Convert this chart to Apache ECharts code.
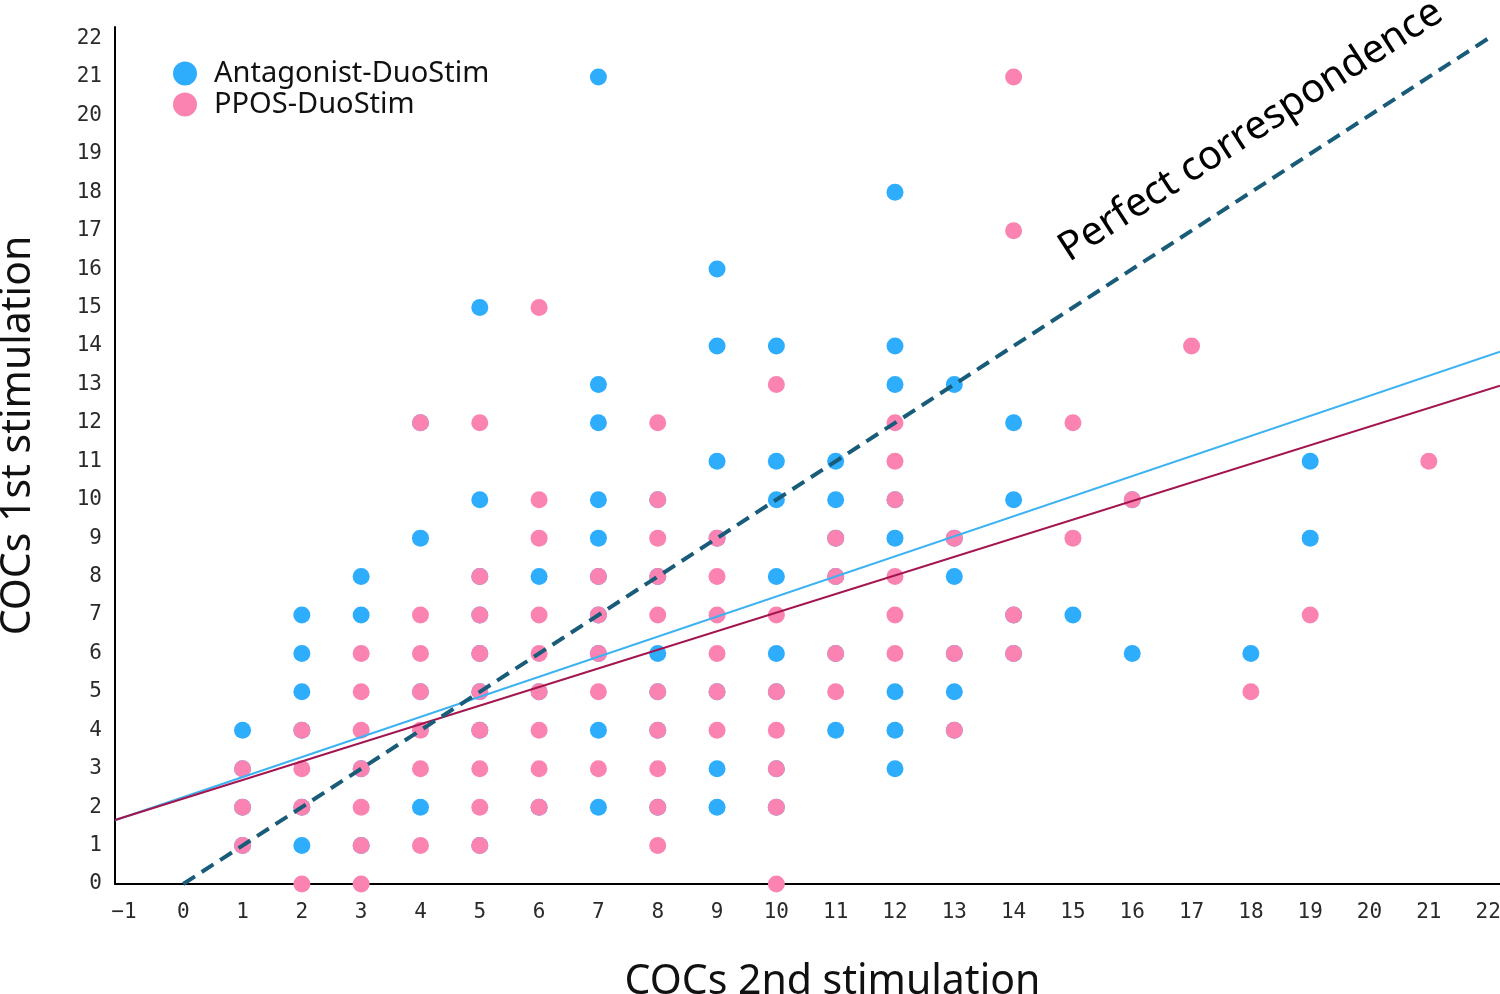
<!DOCTYPE html>
<html><head><meta charset="utf-8">
<script src="https://cdn.jsdelivr.net/npm/echarts@6/dist/echarts.min.js"></script>
<style>html,body{margin:0;padding:0;background:#fff}#c{width:1500px;height:994px}</style>
</head><body><div id="c"></div>
<script>
// Antagonist-DuoStim: [COCs 2nd stimulation, COCs 1st stimulation]
const antagonistPoints = [
  [1,1],[1,2],[1,3],[1,4],
  [2,1],[2,2],[2,4],[2,5],[2,6],[2,7],
  [3,1],[3,3],[3,7],[3,8],
  [4,2],[4,5],[4,9],[4,12],
  [5,1],[5,4],[5,5],[5,6],[5,7],[5,8],[5,10],[5,15],
  [6,2],[6,5],[6,8],
  [7,2],[7,4],[7,6],[7,7],[7,8],[7,9],[7,10],[7,12],[7,13],[7,21],
  [8,2],[8,4],[8,5],[8,6],[8,8],[8,10],
  [9,2],[9,3],[9,5],[9,9],[9,11],[9,14],[9,16],
  [10,2],[10,3],[10,5],[10,6],[10,8],[10,10],[10,11],[10,14],
  [11,4],[11,6],[11,8],[11,9],[11,10],[11,11],
  [12,3],[12,4],[12,5],[12,9],[12,10],[12,13],[12,14],[12,18],
  [13,4],[13,5],[13,6],[13,8],[13,9],[13,13],
  [14,6],[14,7],[14,10],[14,12],
  [15,7],
  [16,6],[16,10],
  [18,6],
  [19,9],[19,11]
];
// PPOS-DuoStim
const pposPoints = [
  [1,1],[1,2],[1,3],
  [2,0],[2,2],[2,3],[2,4],
  [3,0],[3,1],[3,2],[3,3],[3,4],[3,5],[3,6],
  [4,1],[4,3],[4,4],[4,5],[4,6],[4,7],[4,12],
  [5,1],[5,2],[5,3],[5,4],[5,5],[5,6],[5,7],[5,8],[5,12],
  [6,2],[6,3],[6,4],[6,5],[6,6],[6,7],[6,9],[6,10],[6,15],
  [7,3],[7,5],[7,6],[7,7],[7,8],
  [8,1],[8,2],[8,3],[8,4],[8,5],[8,7],[8,8],[8,9],[8,10],[8,12],
  [9,4],[9,5],[9,6],[9,7],[9,8],[9,9],
  [10,0],[10,2],[10,3],[10,4],[10,5],[10,7],[10,13],
  [11,5],[11,6],[11,8],[11,9],
  [12,6],[12,7],[12,8],[12,10],[12,11],[12,12],
  [13,4],[13,6],[13,9],
  [14,6],[14,7],[14,17],[14,21],
  [15,9],[15,12],
  [16,10],
  [17,14],
  [18,5],
  [19,7],
  [21,11]
];
// Fitted lines: [intercept, slope]
const antagonistFit = [2.26, 0.522];
const pposFit = [2.22, 0.484];
const identityLine = [[0,0],[22,22]];
const seriesNames = ['Antagonist-DuoStim','PPOS-DuoStim'];
const xTitle = 'COCs 2nd stimulation';
const yTitle = 'COCs 1st stimulation';
const annotationText = 'Perfect correspondence';
const xTickMin = -1, xTickMax = 22;

const X_MIN = -1.15, X_MAX = 22.2, Y_MIN = 0, Y_MAX = 22.3;
const fitLine = f => [[X_MIN, f[0] + f[1]*X_MIN], [X_MAX, f[0] + f[1]*X_MAX]];

const GRID_L = 115, GRID_R = 0, GRID_T = 27, GRID_B = 110, W = 1500;
const pxPerUnit = (W - GRID_L - GRID_R) / (X_MAX - X_MIN);
const labelGridL = GRID_L + (xTickMin - X_MIN) * pxPerUnit;
const labelGridR = GRID_R + (X_MAX - xTickMax) * pxPerUnit;

const BLUE = '#2EADFD', PINK = '#FA83B1';
const tickFont = {fontFamily:'DejaVu Sans Mono', fontSize:21, color:'#2a2a2a'};
const intLabel = v => String(v).replace('-', '\u2212');

const chart = echarts.init(document.getElementById('c'), null, {renderer:'canvas'});
chart.setOption({
  animation:false,
  backgroundColor:'#fff',
  grid:[
    {left:GRID_L, right:GRID_R, top:GRID_T, bottom:GRID_B, containLabel:false, outerBoundsMode:'none'},
    {left:labelGridL, right:labelGridR, top:GRID_T, bottom:GRID_B, containLabel:false, outerBoundsMode:'none'}
  ],
  legend:{
    orient:'vertical', left:168, top:54, itemGap:2, itemWidth:24, itemHeight:24,
    icon:'circle',
    data:seriesNames,
    textStyle:{fontFamily:'Noto Sans', fontSize:29, lineHeight:26, color:'#111', padding:[0,0,0,12]}
  },
  xAxis:[{
    gridIndex:0, type:'value', min:X_MIN, max:X_MAX,
    name:xTitle, nameLocation:'middle', nameGap:78,
    nameTextStyle:{fontFamily:'Noto Sans', fontSize:41, color:'#111', padding:[0,0,0,50]},
    axisLine:{show:true, onZero:false, lineStyle:{color:'#000', width:2}},
    axisTick:{show:false},
    splitLine:{show:false},
    axisLabel:{show:false}
  },{
    gridIndex:1, type:'value', min:xTickMin, max:xTickMax, interval:1,
    axisLine:{show:false}, axisTick:{show:false}, splitLine:{show:false},
    axisLabel:Object.assign({formatter:intLabel, margin:18}, tickFont)
  }],
  yAxis:[{
    gridIndex:0, type:'value', min:Y_MIN, max:Y_MAX, interval:1,
    name:yTitle, nameLocation:'middle', nameGap:76, nameRotate:90,
    nameTextStyle:{fontFamily:'Noto Sans', fontSize:41, color:'#111', padding:[0,0,0,40]},
    axisLine:{show:true, onZero:false, lineStyle:{color:'#000', width:2}},
    axisTick:{show:false},
    splitLine:{show:false},
    axisLabel:Object.assign({margin:13}, tickFont)
  },{
    gridIndex:1, type:'value', min:Y_MIN, max:Y_MAX, show:false
  }],
  series:[
    {name:seriesNames[0], type:'scatter', data:antagonistPoints, symbolSize:17,
     itemStyle:{color:BLUE, opacity:1}, clip:true, z:2},
    {name:seriesNames[1], type:'scatter', data:pposPoints, symbolSize:17,
     itemStyle:{color:PINK, opacity:1}, clip:true, z:3},
    {type:'line', data:fitLine(antagonistFit), symbol:'none', silent:true,
     lineStyle:{color:'#3DB2F2', width:2}, z:4},
    {type:'line', data:fitLine(pposFit), symbol:'none', silent:true,
     lineStyle:{color:'#A3154F', width:2}, z:5},
    {type:'line', data:identityLine, symbol:'none', silent:true,
     lineStyle:{color:'#195C79', width:4, type:[14,8]}, z:6}
  ]
});

const p0 = chart.convertToPixel({gridIndex:0}, identityLine[0]);
const p1 = chart.convertToPixel({gridIndex:0}, identityLine[1]);
const ang = Math.atan2(p0[1]-p1[1], p1[0]-p0[0]);
const pc = chart.convertToPixel({gridIndex:0}, [18.0, 19.6]);
chart.setOption({
  graphic:[{type:'text', x:pc[0], y:pc[1], rotation:ang, z:10,
    style:{text:annotationText, fontFamily:'Noto Sans', fontSize:40, fill:'#000',
           align:'center', verticalAlign:'middle'}}]
});
</script>
</body></html>
